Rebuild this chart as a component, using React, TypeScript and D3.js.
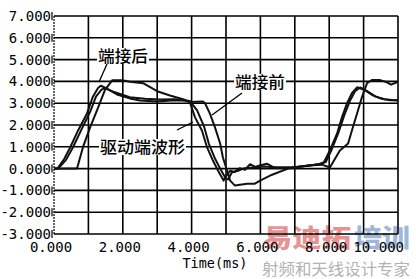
import React from "react";
import * as d3 from "d3";

const yTicks = [7, 6, 5, 4, 3, 2, 1, 0, -1, -2, -3];
const yTickLabels = ["7.000", "6.000", "5.000", "4.000", "3.000", "2.000", "1.000", "0.000", "-1.000", "-2.000", "-3.000"];
const xTicks = [0, 2, 4, 6, 8, 10];
const xTickLabels = ["0.000", "2.000", "4.000", "6.000", "8.000", "10.000"];
const xGrid = [0, 1, 2, 3, 4, 5, 6, 7, 8, 9, 10];
const xAxisTitle = "Time(ms)";

// 驱动端波形 (driver end)
const driverEnd: [number, number][] = [
  [0, 0], [0.1, 0], [0.3, 0.45], [0.47, 0.97], [0.7, 1.75], [0.96, 2.53], [1.13, 3.3], [1.28, 3.7], [1.36, 3.8],
  [1.5, 3.7], [1.83, 3.4], [2.2, 3.22], [2.5, 3.12], [3.0, 3.08], [3.4, 3.12], [3.8, 3.12], [3.95, 3.05],
  [4.1, 2.35], [4.3, 1.75], [4.45, 0.97], [4.62, 0.37], [4.77, -0.1], [4.88, -0.41], [4.93, -0.55], [5.0, -0.35],
  [5.12, -0.1], [5.25, -0.15], [5.4, 0.02], [5.55, -0.05], [5.7, 0.2], [5.85, 0.08], [6.0, 0.15], [6.2, 0.22],
  [6.4, 0.05], [6.6, 0.05], [6.9, 0.05], [7.2, 0.1], [7.5, 0.15], [7.75, 0.22], [7.85, 0.3], [8.02, 0.83],
  [8.23, 1.61], [8.37, 2.35], [8.52, 3.0], [8.66, 3.46], [8.81, 3.73], [9.04, 3.6], [9.27, 3.36], [9.48, 3.23],
  [9.77, 3.13], [10, 3.13],
];

// 端接后 (after termination)
const afterTerm: [number, number][] = [
  [0, 0], [0.12, 0], [0.35, 0.4], [0.55, 0.97], [0.8, 1.8], [1.05, 2.6], [1.22, 3.3], [1.38, 3.62], [1.48, 3.69],
  [1.77, 3.5], [2.2, 3.27], [2.65, 3.2], [3.08, 3.17], [3.5, 3.18], [3.95, 3.1], [4.16, 2.67], [4.36, 1.94],
  [4.5, 1.15], [4.68, 0.46], [4.83, 0], [4.97, -0.4], [5.06, -0.5], [5.17, -0.18], [5.35, -0.1], [5.5, 0.0],
  [5.8, 0.05], [6.1, 0.1], [6.5, 0.05], [6.9, 0.05], [7.3, 0.12], [7.7, 0.2], [7.9, 0.3], [8.08, 0.9],
  [8.28, 1.7], [8.45, 2.5], [8.6, 3.1], [8.75, 3.55], [8.9, 3.72], [9.1, 3.55], [9.35, 3.3], [9.6, 3.18], [10, 3.12],
];

// 端接前 (before termination)
const beforeTerm: [number, number][] = [
  [0, 0], [0.67, 0], [0.84, 0.97], [1.05, 1.89], [1.25, 2.67], [1.48, 3.6], [1.69, 4.05], [1.98, 4.05],
  [2.21, 3.98], [2.59, 3.92], [3.0, 3.55], [3.37, 3.35], [3.75, 3.18], [3.95, 3.06], [4.33, 3.08], [4.39, 3.0],
  [4.53, 2.53], [4.68, 1.89], [4.83, 1.15], [4.91, 0.51], [5.03, -0.09], [5.12, -0.55], [5.26, -0.78],
  [5.61, -0.7], [5.84, -0.69], [5.99, -0.55], [6.34, -0.28], [6.8, 0], [7.38, 0.14], [7.79, 0.18], [8.02, 0.05],
  [8.31, 0.83], [8.55, 1.15], [8.66, 1.75], [8.81, 2.53], [8.95, 3.27], [9.1, 3.92], [9.24, 4.06], [9.48, 4.06],
  [9.68, 3.96], [9.8, 3.85], [9.97, 3.96],
];

const series = [driverEnd, afterTerm, beforeTerm];

const W = 416;
const H = 279;

export default function App() {
  const x = d3.scaleLinear().domain([0, 10]).range([54, 398]);
  const y = d3.scaleLinear().domain([-3, 7]).range([234, 16]);
  const line = d3
    .line<[number, number]>()
    .x((d) => x(d[0]))
    .y((d) => y(d[1]));

  const mono = "'DejaVu Sans Mono', monospace";
  const cjk = "'Noto Sans CJK SC', sans-serif";

  return (
    <svg
      width={W}
      height={H}
      style={{ position: "fixed", left: 0, top: 0, background: "#fff" }}
      viewBox={`0 0 ${W} ${H}`}
    >
      <rect x={0} y={0} width={W} height={H} fill="#fff" />
      <defs>
        <clipPath id="plot">
          <rect x={x(0)} y={y(7)} width={x(10) - x(0)} height={y(-3) - y(7)} />
        </clipPath>
      </defs>

      {/* watermark */}
      <g opacity={0.75}>
        <text x={263} y={247} fontFamily={cjk} fontWeight={900} fontSize={25} fill="#e07070" textLength={88} lengthAdjust="spacingAndGlyphs">
          易迪拓
        </text>
        <text x={354} y={247} fontFamily={cjk} fontWeight={900} fontSize={25} fill="#7f9fd0" textLength={56} lengthAdjust="spacingAndGlyphs">
          培训
        </text>
        <text x={262} y={275} fontFamily={cjk} fontWeight={400} fontSize={16} fill="#999" textLength={148} lengthAdjust="spacingAndGlyphs">
          射频和天线设计专家
        </text>
      </g>

      {/* horizontal grid */}
      {yTicks.map((t) => (
        <line key={"h" + t} x1={x(0)} x2={x(10)} y1={y(t)} y2={y(t)} stroke="#000" strokeWidth={1.6} />
      ))}
      {/* vertical grid */}
      {xGrid.map((t) => (
        <line
          key={"v" + t}
          x1={x(t)}
          x2={x(t)}
          y1={y(7)}
          y2={y(-3)}
          stroke="#000"
          strokeWidth={t === 0 ? 1.2 : 1.6}
          strokeDasharray={t === 0 ? "2,1" : undefined}
        />
      ))}

      {/* y tick marks & labels */}
      {yTicks.map((t, i) => (
        <g key={"yl" + t}>
          <line x1={x(0) - 2} x2={x(0) - 2} y1={y(t) - 4} y2={y(t) + 4} stroke="#000" strokeWidth={1.2} />
          <text
            x={51}
            y={y(t)}
            dy="0.36em"
            textAnchor="end"
            fontFamily={mono}
            fontSize={14}
            fill="#000"
          >
            {yTickLabels[i]}
          </text>
        </g>
      ))}

      {/* x labels */}
      {xTicks.map((t, i) => (
        <text
          key={"xl" + t}
          x={i === xTicks.length - 1 ? 404 : x(t) - 3}
          y={252}
          textAnchor={i === xTicks.length - 1 ? "end" : "middle"}
          fontFamily={mono}
          fontSize={14}
          fill="#000"
        >
          {xTickLabels[i]}
        </text>
      ))}
      <text x={215} y={268} textAnchor="middle" fontFamily={mono} fontSize={14} fill="#000" textLength={65} lengthAdjust="spacingAndGlyphs">
        {xAxisTitle}
      </text>

      {/* curves */}
      <g clipPath="url(#plot)">
        {series.map((s, i) => (
          <path key={"s" + i} d={line(s) || ""} fill="none" stroke="#111" strokeWidth={2} strokeLinejoin="round" />
        ))}
      </g>

      {/* annotations */}
      <line x1={107} y1={64} x2={99} y2={82} stroke="#000" strokeWidth={1.3} />
      <line x1={242} y1={93} x2={212} y2={115} stroke="#000" strokeWidth={1.3} />
      <line x1={177} y1={130} x2={193} y2={122} stroke="#000" strokeWidth={1.3} />

      <rect x={97} y={48} width={52} height={16} fill="#fff" />
      <text x={98} y={62} fontFamily={cjk} fontWeight={500} fontSize={16} fill="#000" textLength={50} lengthAdjust="spacingAndGlyphs">
        端接后
      </text>
      <rect x={234} y={74} width={52} height={16} fill="#fff" />
      <text x={235} y={88} fontFamily={cjk} fontWeight={500} fontSize={16} fill="#000" textLength={50} lengthAdjust="spacingAndGlyphs">
        端接前
      </text>
      <rect x={99} y={139} width={87} height={16} fill="#fff" />
      <text x={100} y={153} fontFamily={cjk} fontWeight={500} fontSize={16} fill="#000" textLength={85} lengthAdjust="spacingAndGlyphs">
        驱动端波形
      </text>
    </svg>
  );
}
